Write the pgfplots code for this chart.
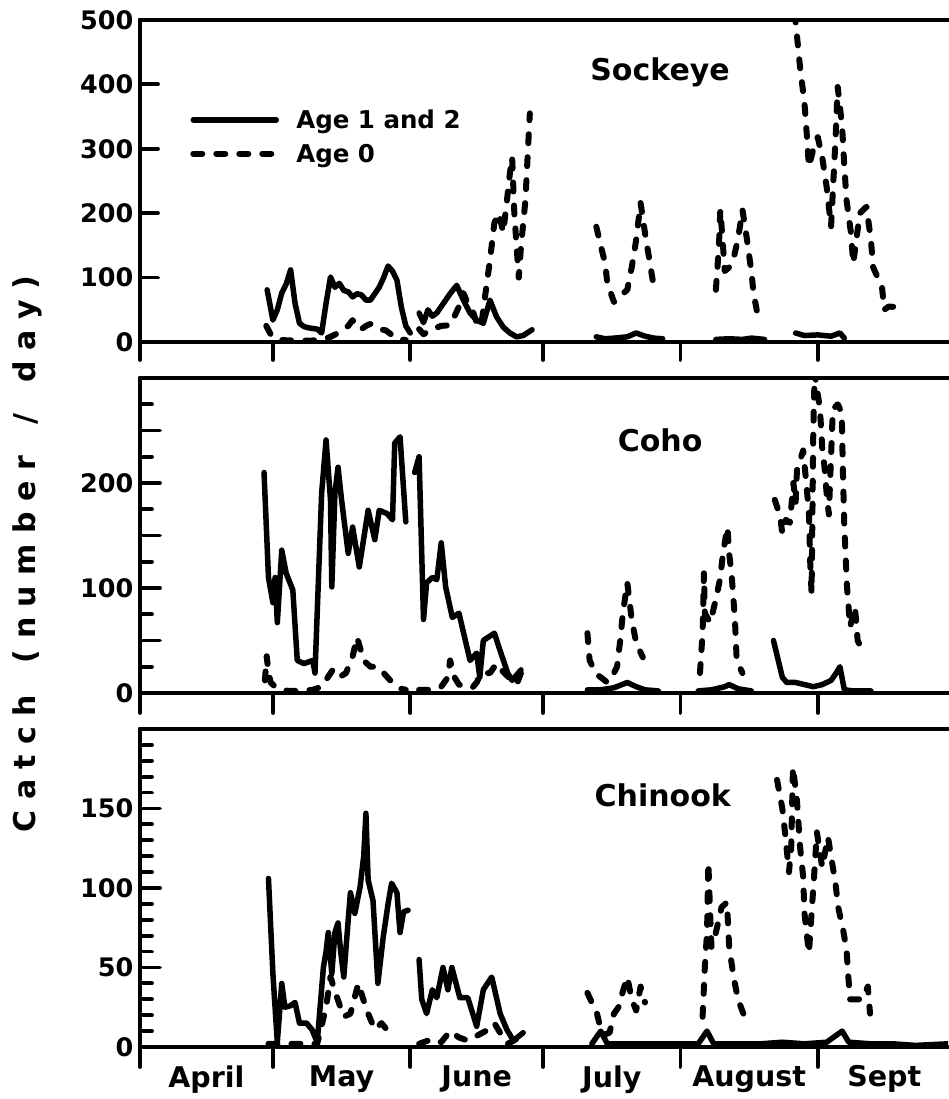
\documentclass[border=0pt]{standalone}
\usepackage{fontspec}
\setmainfont{DejaVu Sans}
\usepackage{pgfplots}
\pgfplotsset{compat=1.18}
\pgfplotsset{
  every non boxed y axis/.style={},
  every non boxed x axis/.style={},
  panel/.style={
    scale only axis, width=808pt,
    xmin=0, xmax=182.4,
    axis x line*=box, axis y line*=left,
    xtick pos=bottom, ytick pos=left,
    xtick align=outside, ytick align=inside,
    xtick={0,30,61,91,122,153}, xticklabels={},
    axis line style={line width=4.2pt, line cap=round},
    tick style={black, line width=3.8pt, line cap=round},
    major tick length=20pt, minor tick length=12pt,
    tick label style={font=\fontsize{25.5}{25.5}\selectfont\bfseries},
    /pgf/number format/assume math mode=true,
    yticklabel style={xshift=-3pt},
    unbounded coords=jump,
  },
  s1/.style={black, line width=5.5pt, line join=round, line cap=round},
  s0/.style={black, line width=6pt, line join=round, line cap=round, dash pattern=on 9pt off 14pt},
}
\newcommand\ls{\kern 10.5pt\relax}
\begin{document}
\begin{tikzpicture}[x=1pt,y=1pt]
\useasboundingbox (0,0) rectangle (948,1099);

% ---------------- Sockeye ----------------
\begin{axis}[panel, at={(140pt,757pt)}, anchor=south west, height=322pt,
  ymin=0, ymax=500, ytick={0,100,...,500}, major tick length=18pt,
  legend style={at={(0.062,0.728)}, anchor=north west, draw=none, fill=none,
    font=\fontsize{24.5}{24.5}\selectfont\bfseries, row sep=10pt, inner sep=0pt,
    cells={anchor=west}, /tikz/every odd column/.append style={column sep=15pt}},
  legend image code/.code={\draw[#1] (0pt,0pt) -- (83pt,0pt);},
]
\addplot[s1] coordinates {
(28.7,81)(30,34)(31,50)(32,76)(33,90)(34,112)(35,60)(36,29)(37,24)(38,22)(40,20)(41,14)(42,60)(43,101)(44,85)(45,91)(46,80)(47,78)(48,70)(49,75)(50,73)(51,65)(52,65)(53,75)(54,85)(55,100)(56,118)(57,110)(58,96)(59,54)(60,25)(61,14)
(62,nan)
(63,45)(64,30)(65,50)(66,40)(67,45)(68,55)(69,65)(70,75)(71.5,88)(73,65)(74.5,45)(76,34)(77.5,29)(79,65)(80.5,39)(82,23)(83.5,14)(85,8)(86.5,10)(88.5,19)
(95,nan)
(103,8)(105,5)(107,6)(110,8)(112,14)(114,9)(116,6)(118,5)
(124,nan)
(130,4)(133,5)(136,4)(138,6)(141,4)
(145,nan)
(148,14)(150,10)(153,11)(156,9)(158,14)(159,6)
};
\addlegendentry{Age 1 and 2}
\addplot[s0] coordinates {
(28.5,25)(29.5,12)(30.5,5)(32,3)(35,2)(38,2)(41,3)(43,8)(45,15)(47,25)(48,34)(49,22)(50,20)(51,25)(52,28)(53,24)(54,20)(55.5,18)(57,10)(58,5)(60,3)
(61.5,nan)
(63,20)(64,12)(66,20)(68,25)(70,26)(71,40)(72,55)(73,76)(74,60)(75,50)(76,30)(77,24)(78,76)(79,127)(80,185)(81,200)(82,170)(83,230)(83.5,262)(84,287)(84.5,200)(85,150)(85.5,100)(86,148)(87,220)(88,355)
(95,nan)
(103,179)(104,150)(105,122)(105.5,91)(107,62)(108,70)(109,75)(110,81)(111,116)(112,158)(113,216)(114,169)(115,127)(116,85)
(124,nan)
(130,81)(130.7,150)(131,205)(131.5,160)(132,110)(133,116)(134,130)(135,160)(136,205)(137,160)(138,110)(138.5,76)(139.5,39)
(145,nan)
(147.8,510)(149,427)(150,371)(150.5,324)(151,272)(152,300)(153,318)(154,287)(155,241)(156,179)(156.5,247)(157,314)(157.5,396)(158.5,334)(159,272)(159.5,220)(160.5,169)(161,122)(162.5,200)(164,210)(165,158)(165.5,116)(167.5,85)(168,50)(169,55)(171.5,54)
};
\addlegendentry{Age 0}
\node[font=\fontsize{30}{30}\selectfont\bfseries] at (axis cs:117.4,419) {Sockeye};
\end{axis}

% ---------------- Coho ----------------
\begin{axis}[panel, at={(140pt,406pt)}, anchor=south west, height=315pt,
  ymin=0, ymax=300, ytick={0,50,...,250}, yticklabels={0,{},100,{},200,{}},
  minor ytick={25,75,...,275}]
\addplot[s1] coordinates {
(28,210)(29,110)(30,86)(30.5,110)(31,67)(32,136)(33,114)(34.5,98)(35.5,31)(37,28)(39,31)(39.5,19)(41,190)(42,241)(43,184)(43.3,101)(44,190)(44.7,215)(45.5,184)(47,133)(48,158)(49.5,120)(51.5,174)(53,146)(54,174)(55.7,171)(57,165)(57.5,238)(58.7,244)(60,163)
(61,nan)
(62,210)(63,225)(64,70)(64.7,105)(66,110)(67,108)(68,143)(69,101)(70.5,72)(72,76)(74.5,31)(76,38)(76.7,15)(77.5,50)(80,57)(81,44)(83,19)(84,12)(86,22)
(95,nan)
(101,3)(104,3)(107,5)(110,10)(112,6)(114,3)(117,2)
(122,nan)
(126,2)(129,3)(132,6)(133,8)(135,4)(138,2)
(141,nan)
(143,50)(145,15)(146,10)(148,10)(150,8)(152,6)(154,8)(156,12)(157,18)(158,25)(159,3)(161,2)(165,2)
};
\addplot[s0] coordinates {
(28.2,12)(28.6,35)(29,20)(29.5,10)(30.5,6)(32,3)(33.5,2)(36,2)(39,3)(41,6)(43.5,22)(45,15)(46.5,19)(48,35)(49,53)(50.5,31)(52,25)(53.5,25)(55,19)(56.5,12)(57.5,8)(59,4)(60,3)
(61.5,nan)
(63,3)(66,3)(68,6)(69.5,15)(70,31)(71,15)(72,8)(73.5,6)(75,5)(76,10)(77,19)(79,19)(80.5,28)(82,20)(84,12)(85,8)(86,19)
(95,nan)
(101,57)(101.5,31)(103,18)(104,15)(105.5,10)(106.5,15)(107.7,25)(108.4,50)(109,76)(110,105)(111,70)(112,48)(113.5,34)
(120,nan)
(126.4,19)(127,57)(127.3,114)(127.5,76)(128.7,67)(130,89)(131,110)(131.6,133)(132.6,158)(133,133)(133.6,110)(134.3,70)(134.7,31)(136,19)
(140,nan)
(143.3,184)(144.5,168)(145,152)(145.8,165)(146.7,162)(147.5,200)(148,181)(148.3,212)(149.7,231)(150.5,196)(151,171)(151.3,124)(151.6,95)(152,253)(152.3,305)(153.5,270)(154,234)(154.6,212)(155,190)(155.5,170)(156.4,270)(157.5,275)(158.4,267)(158.7,206)(159,158)(159.6,101)(160.3,63)(161.4,82)(162,50)(163,41)
};
\node[font=\fontsize{30}{30}\selectfont\bfseries] at (axis cs:117.4,241) {Coho};
\end{axis}

% ---------------- Chinook ----------------
\begin{axis}[panel, at={(140pt,52pt)}, anchor=south west, height=318pt,
  ymin=0, ymax=200, ytick={0,50,100,150},
  minor ytick={10,20,30,40,60,70,80,90,110,120,130,140,160,170,180,190},
  extra x ticks={15,45.5,76,106.5,137.5,168},
  extra x tick labels={April,May,June,July,August,Sept},
  extra x tick style={major tick length=0pt, xticklabel style={font=\fontsize{28.5}{28.5}\selectfont\bfseries, yshift=-15pt}},
]
\addplot[s1] coordinates {
(29,106)(30,46)(31,3)(32,40)(32.7,25)(34,26)(35,28)(36,15)(37.6,15)(38.8,11)(40,3)(41.4,50)(42,60)(42.5,72)(43.3,46)(44,72)(44.7,78)(45.3,60)(46,44)(47,80)(47.5,97)(48.5,84)(49.7,101)(50.5,120)(51,147)(51.5,105)(52.6,92)(53.7,40)(54.9,69)(56,90)(56.8,103)(58,97)(58.7,72)(59.5,85)(60.5,86)
(61.5,nan)
(63,55)(63.6,30)(64.7,21)(66,36)(67,31)(68.4,50)(69.5,36)(70.4,50)(72.2,31)(74,31)(76,13)(77.5,36)(79.4,44)(81.3,21)(82.8,11)(84.3,4)(86.5,9)
(95,nan)
(102,2)(104,10)(105.5,2)(110,2)(116,2)(122,2)(126,2)(128,10)(129.5,2)(135,2)(140,2)(145,3)(150,2)(155,3)(158.5,10)(160,3)(165,2)(170,2)(175,1)(182.4,2)
};
\addplot[s0] coordinates {
(29,2)(33,2)(37,2)(40,2)(42,25)(43,44)(44.5,31)(46,19)(47.5,21)(49.3,40)(50.4,30)(51.5,21)(53,11)(54.5,15)(55.7,11)(57,6)
(61,nan)
(63,2)(66,5)(68,3)(70,10)(72,6)(74,4)(76,7)(78,10)(80,15)(81.5,8)(83,2)(85,5)(86.5,7)
(95,nan)
(101,34)(102,28)(103,23)(104,11)(105,8)(106,9)(107,21)(108,25)(109,35)(110,44)(111,30)(112,23)(113,38)(114,28)
(120,nan)
(127,19)(127.5,50)(128,72)(128.3,116)(128.7,84)(129,63)(130,72)(131.3,88)(132.5,91)(133,63)(134,44)(135,30)(137,15)
(140,nan)
(143.8,168)(145,150)(145.6,135)(146.5,110)(147,125)(147.4,176)(148.3,155)(149,126)(149.7,107)(150,84)(151,59)(152.3,113)(152.8,135)(154,113)(155.3,132)(156,120)(157,103)(157.6,88)(158.7,74)(159.5,61)(159.9,44)(160.3,30)(163,30)(164.3,38)(164.8,21)
};
\node[font=\fontsize{30}{30}\selectfont\bfseries] at (axis cs:118,158) {Chinook};
\end{axis}

\node[rotate=90, font=\fontsize{30}{30}\selectfont\bfseries] at (27,545)
  {C\ls a\ls t\ls c\ls h\ls\ \ls(\ls n\ls u\ls m\ls b\ls e\ls r\ls\ \ls/\ls\ \ls d\ls a\ls y\ls)};
\end{tikzpicture}
\end{document}
